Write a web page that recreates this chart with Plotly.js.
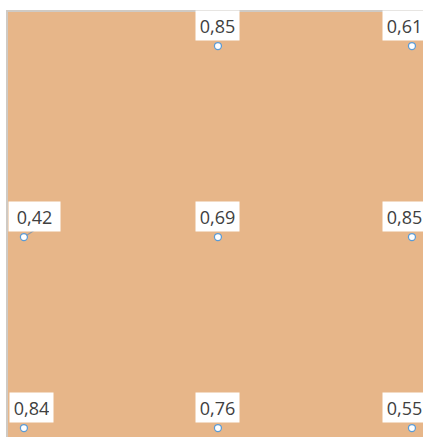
<!DOCTYPE html>
<html><head><meta charset="utf-8">
<script src="https://cdn.plot.ly/plotly-3.0.1.min.js"></script>
<style>html,body{margin:0;padding:0;background:#fff}#chart{width:423px;height:437px}</style>
</head><body><div id="chart"></div>
<script>
var xCats = [1, 2, 3, 1, 2, 3, 1, 2, 3];
var yRows = [3, 3, 3, 2, 2, 2, 1, 1, 1];
var values = [null, 0.85, 0.61, 0.42, 0.69, 0.85, 0.84, 0.76, 0.55];

var fmt = function (v) { return v.toFixed(2).replace('.', ','); };
var px = [], py = [], ann = [];
for (var i = 0; i < values.length; i++) {
  if (values[i] === null) continue;
  px.push(xCats[i]); py.push(yRows[i]);
  var a = {
    x: xCats[i], y: yRows[i], xref: 'x', yref: 'y', text: fmt(values[i]),
    showarrow: false, yshift: 20.5, xshift: 0, xanchor: 'center', yanchor: 'middle',
    bgcolor: '#ffffff', borderpad: 4, width: 35, height: 21,
    font: {family: 'Open Sans, sans-serif', size: 18, color: '#404040'}
  };
  if (xCats[i] === 3) a.xshift = -7;
  if (xCats[i] === 1) a.xshift = 8;
  if (xCats[i] === 1 && yRows[i] === 2) {
    a.xshift = 11; a.yshift = 21; a.width = 43;
    ann.push({
      x: xCats[i], y: yRows[i], xref: 'x', yref: 'y', text: ' ',
      font: {size: 1}, borderpad: 0,
      showarrow: true, arrowhead: 0, arrowwidth: 1.2, arrowcolor: '#8E9AA8',
      ax: 11, ay: -7, standoff: 3
    });
  }
  ann.push(a);
}

Plotly.newPlot('chart', [{
  type: 'scatter', mode: 'markers', x: px, y: py, hoverinfo: 'none',
  marker: {size: 7, color: '#ffffff', line: {color: '#5B9BD5', width: 1.25}},
  cliponaxis: false
}], {
  width: 423, height: 437,
  margin: {l: 8, r: 0, t: 12, b: 0, pad: 0},
  paper_bgcolor: '#ffffff', plot_bgcolor: '#E7B689',
  showlegend: false,
  xaxis: {range: [0.918, 3.057], showgrid: false, zeroline: false, showticklabels: false, ticks: '',
          showline: true, side: 'top', linecolor: '#CFCAC4', linewidth: 2},
  yaxis: {range: [0.953, 3.178], showgrid: false, zeroline: false, showticklabels: false, ticks: '',
          showline: true, linecolor: '#CFCAC4', linewidth: 2},
  annotations: ann
}, {staticPlot: true});
</script></body></html>
